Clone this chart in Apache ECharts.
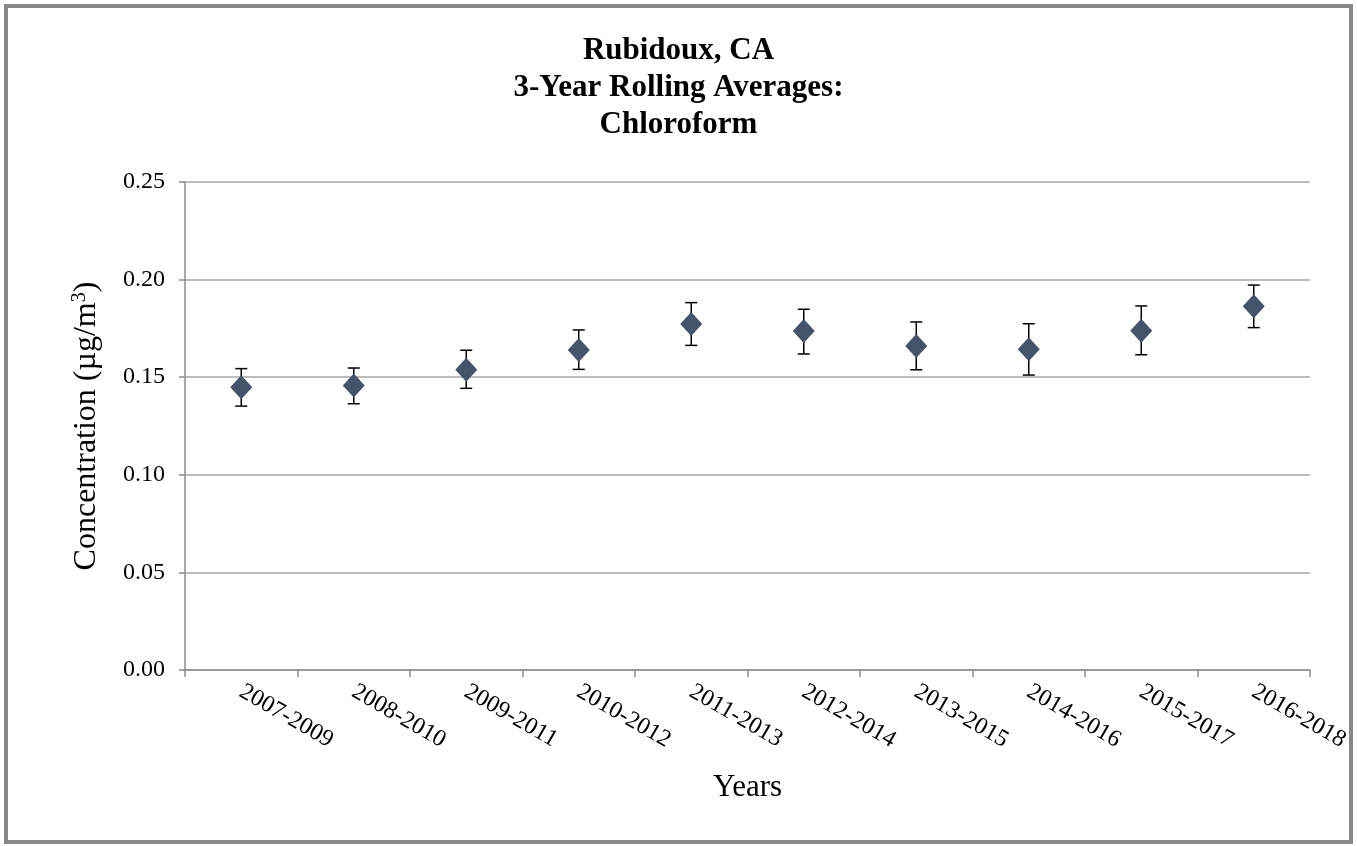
<!DOCTYPE html>
<html><head><meta charset="utf-8">
<script src="https://cdn.jsdelivr.net/npm/echarts@6/dist/echarts.min.js"></script>
<style>html,body{margin:0;padding:0;background:#fff}#c{width:1357px;height:846px}</style>
</head><body><div id="c"></div>
<script>
const categories = ['2007-2009','2008-2010','2009-2011','2010-2012','2011-2013','2012-2014','2013-2015','2014-2016','2015-2017','2016-2018'];
const means = [0.1448,0.1457,0.1538,0.1639,0.1773,0.1737,0.1660,0.1643,0.1738,0.1863];
const lows  = [0.1352,0.1364,0.1443,0.1540,0.1663,0.1619,0.1538,0.1511,0.1615,0.1754];
const highs = [0.1544,0.1547,0.1638,0.1742,0.1882,0.1848,0.1783,0.1774,0.1865,0.1972];
const yTicks = [0, 0.05, 0.10, 0.15, 0.20, 0.25];

const serif = 'Liberation Serif';
const chart = echarts.init(document.getElementById('c'), null, {renderer:'canvas'});
const errData = categories.map((c,i)=>[i, lows[i], highs[i]]);
chart.setOption({
  animation:false,
  graphic:[{type:'rect', shape:{x:6,y:6,width:1345,height:836}, style:{fill:'none', stroke:'#878787', lineWidth:4}}],
  title:{text:'Rubidoux, CA\n3-Year Rolling Averages:\nChloroform', left:'center', top:27,
    textStyle:{fontFamily:serif, fontWeight:'bold', fontSize:31, lineHeight:37, color:'#000'}},
  grid:{left:185, right:47, top:182, bottom:176, containLabel:false},
  xAxis:{type:'category', data:categories, boundaryGap:true,
    axisLine:{lineStyle:{color:'#8c8c8c', width:1.5}},
    axisTick:{show:true, length:7, lineStyle:{color:'#8c8c8c', width:1.5}},
    axisLabel:{rotate:-30, fontFamily:serif, fontSize:24, color:'#000', margin:20, interval:0},
    name:'Years', nameLocation:'middle', nameGap:102,
    nameTextStyle:{fontFamily:serif, fontSize:31, color:'#000'}},
  yAxis:{type:'value', min:0, max:0.25, interval:0.05,
    axisLine:{show:true, lineStyle:{color:'#8c8c8c', width:1.5}},
    axisTick:{show:true, length:6, lineStyle:{color:'#8c8c8c', width:1.5}},
    splitLine:{lineStyle:{color:'#a6a6a6', width:1.5}},
    axisLabel:{fontFamily:serif, fontSize:24, color:'#000', margin:20, formatter:v=>v.toFixed(2)},
    name:'{a|Concentration (µg/m}{s|3}{a|)}', nameLocation:'middle', nameGap:81, nameRotate:90,
    nameTextStyle:{rich:{a:{fontFamily:serif, fontSize:32, color:'#000'}, s:{fontFamily:serif, fontSize:20, color:'#000', verticalAlign:'top', padding:[0,0,14,0]}}}},
  series:[
    {type:'custom', data:errData, z:2,
      renderItem:(params, api)=>{
        const x = api.value(0);
        const lo = api.coord([x, api.value(1)]);
        const hi = api.coord([x, api.value(2)]);
        const hw = 6;
        const st = {stroke:'#000', lineWidth:1.5};
        return {type:'group', children:[
          {type:'line', shape:{x1:lo[0],y1:lo[1],x2:hi[0],y2:hi[1]}, style:st},
          {type:'line', shape:{x1:lo[0]-hw,y1:lo[1],x2:lo[0]+hw,y2:lo[1]}, style:st},
          {type:'line', shape:{x1:hi[0]-hw,y1:hi[1],x2:hi[0]+hw,y2:hi[1]}, style:st}
        ]};
      }},
    {type:'scatter', data:means, symbol:'diamond', symbolSize:[22,24], z:3,
      itemStyle:{color:'#44546a', opacity:1}}
  ]
});
</script></body></html>
